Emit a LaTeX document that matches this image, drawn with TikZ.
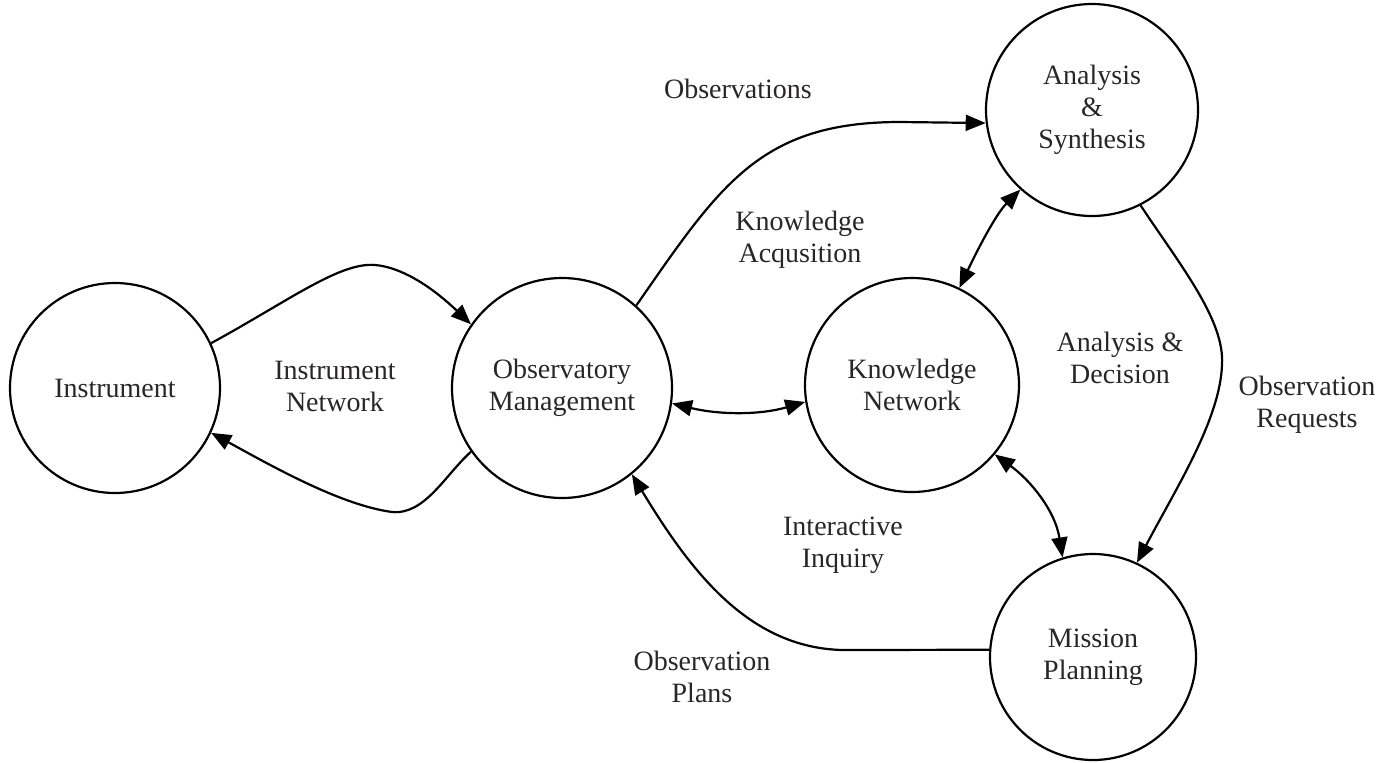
\documentclass[tikz,border=0pt]{standalone}
\usepackage{fontspec}
\setmainfont{Liberation Serif}
\usetikzlibrary{arrows.meta}
\tikzset{>={Triangle[length=10pt,width=8pt]}}
\definecolor{inkgray}{RGB}{40,38,38}
\tikzstyle{bubble}=[circle,draw,line width=1.1pt,inner sep=0pt,text=inkgray,align=center,font=\fontsize{14}{16}\selectfont]
\tikzstyle{flow}=[line width=1.1pt]
\tikzstyle{tag}=[text=inkgray,align=center,font=\fontsize{14}{16}\selectfont]

\begin{document}
\begin{tikzpicture}[x=0.5pt,y=-0.5pt]
  \useasboundingbox (0,0) rectangle (1393,762);

  \node[bubble,minimum size=105pt] (ins) at (115,388) {Instrument};
  \node[bubble,minimum size=110pt] (obs) at (562,388) {Observatory\\Management};
  \node[bubble,minimum size=107pt] (kn) at (912,385) {Knowledge\\Network};
  \node[bubble,minimum size=106pt] (as) at (1092,110) {Analysis\\\&\\Synthesis};
  \node[bubble,minimum size=103pt] (mp) at (1093,657) {Mission\\Planning};

  \node[tag] (lnet) at (335,386) {Instrument\\Network};
  \node[tag] (lobs) at (738,89) {Observations};
  \node[tag] (lacq) at (800,240) {Knowledge\\Acqusition};
  \node[tag] (linq) at (843,545) {Interactive\\Inquiry};
  \node[tag] (lplan) at (702,677) {Observation\\Plans};
  \node[tag] (ldec) at (1120,358) {Analysis \&\\Decision};
  \node[tag] (lreq) at (1307,405) {Observation\\Requests};

  \draw[flow,->] (ins.25) .. controls (290,300) and (340,262) .. (375,265)
    .. controls (400,267) and (430,285) .. (obs.145);
  \draw[flow,->] (obs.215) .. controls (445,475) and (425,515) .. (392,512)
    .. controls (340,505) and (270,465) .. (ins.-25);
  \draw[flow,<->] (obs.-8) .. controls (720,415) and (760,415) .. (kn.189);
  \draw[flow,->] (obs.48) .. controls (720,185) and (760,122) .. (900,122) -- (as.187);
  \draw[flow,<->] (kn.64) .. controls (975,255) and (995,215) .. (as.228);
  \draw[flow,->] (as.-63) .. controls (1180,265) and (1225,320) .. (1222,365)
    .. controls (1220,420) and (1175,490) .. (mp.65);
  \draw[flow,<->] (kn.-40) .. controls (1030,480) and (1055,510) .. (mp.107);
  \draw[flow,->] (mp.176) -- (850,650) .. controls (750,652) and (690,570) .. (obs.-51);
\end{tikzpicture}
\end{document}
